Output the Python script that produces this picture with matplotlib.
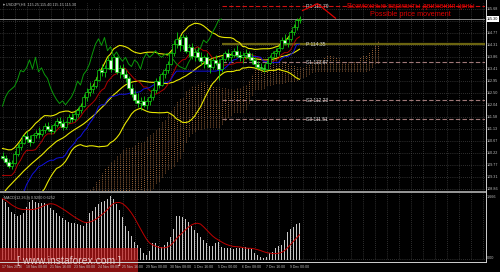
import matplotlib
matplotlib.use('Agg')
import matplotlib.pyplot as plt
import numpy as np
import pandas as pd
from matplotlib.patches import Rectangle

plt.rcParams['font.family'] = ['Liberation Sans', 'DejaVu Sans']

# ---------------- data ----------------
# warm-up history (not drawn, used only by the indicators)
pre_high = [103.6, 103.4, 103.3, 103.3,
            104.1, 104.5, 104.7, 104.6, 104.8, 104.7,
            104.9, 105.1, 105.3, 105.2, 105.5, 105.5,
            105.4, 103.9, 104.4, 105.2, 105.8, 105.9,
            106.2, 106.6, 106.5, 106.9, 106.9, 106.9,
            106.8, 106.7, 106.9, 107.0, 106.9, 106.8,
            107.3, 107.7, 108.0, 108.3, 108.5, 108.6,
            108.8, 108.8, 109.0, 109.3, 109.3, 109.4,
            109.3, 109.1, 109.3, 109.5, 109.8, 110.2]
pre_low = [103.0, 102.9, 102.8, 102.9,
           103.2, 103.9, 104.1, 104.1, 104.2, 104.2,
           104.3, 104.5, 104.7, 104.6, 104.8, 105.0,
           103.3, 101.2, 102.0, 103.9, 104.8, 105.3,
           105.5, 105.8, 105.9, 106.0, 106.5, 106.5,
           106.3, 106.2, 106.3, 106.5, 106.5, 106.4,
           106.5, 107.0, 107.4, 107.8, 108.0, 108.2,
           108.3, 108.3, 108.4, 108.7, 108.8, 108.9,
           108.7, 108.5, 108.7, 109.0, 109.2, 109.4]
pre_close = [103.3, 103.1, 103.0, 103.1,
             103.9, 104.2, 104.4, 104.3, 104.5, 104.4,
             104.6, 104.8, 105.0, 104.9, 105.2, 105.3,
             103.5, 102.2, 104.1, 104.9, 105.5, 105.6,
             105.9, 106.3, 106.1, 106.6, 106.8, 106.7,
             106.5, 106.4, 106.7, 106.8, 106.7, 106.6,
             107.1, 107.5, 107.8, 108.1, 108.3, 108.4,
             108.6, 108.5, 108.8, 109.1, 109.0, 109.2,
             109.0, 108.8, 109.1, 109.3, 109.5, 110.1]

opens = [110.10, 110.05, 109.90, 109.75, 109.85, 110.20,
         110.45, 110.60, 110.85, 110.75, 110.65, 110.90,
         111.00, 110.95, 111.10, 111.25, 111.15, 111.05,
         111.30, 111.45, 111.35, 111.20, 111.40, 111.60,
         111.50, 111.70, 111.85, 112.00, 112.35, 112.55,
         112.65, 112.75, 113.00, 113.35, 113.30, 113.45,
         113.75, 113.40, 113.85, 113.30, 113.45, 113.20,
         113.05, 112.70, 112.45, 112.25, 112.10, 112.20,
         112.05, 112.20, 112.35, 112.60, 112.95, 112.80,
         113.20, 113.35, 113.60, 114.00, 114.35, 114.55,
         114.30, 114.60, 114.10, 114.25, 113.90, 114.05,
         113.85, 113.70, 113.85, 113.60, 113.50, 113.75,
         113.65, 113.40, 113.80, 114.00, 113.85, 113.95,
         114.10, 113.95, 113.85, 113.95, 114.00, 113.85,
         113.75, 113.60, 113.50, 113.45, 113.40, 113.65,
         113.85, 114.00, 114.10, 114.20, 114.50, 114.40,
         114.55, 114.80, 115.00, 115.25]
highs = [110.25, 110.15, 110.00, 109.95, 110.30, 110.55,
         110.70, 110.95, 111.05, 110.90, 110.95, 111.10,
         111.20, 111.15, 111.35, 111.40, 111.30, 111.35,
         111.55, 111.60, 111.50, 111.45, 111.70, 111.75,
         111.80, 111.95, 112.10, 112.45, 112.70, 112.90,
         112.85, 113.10, 113.45, 113.60, 113.55, 113.90,
         113.90, 113.95, 113.90, 113.55, 113.60, 113.35,
         113.15, 112.85, 112.60, 112.50, 112.35, 112.40,
         112.30, 112.45, 112.70, 113.05, 113.15, 113.30,
         113.45, 113.70, 114.10, 114.50, 114.80, 114.70,
         114.75, 114.70, 114.35, 114.40, 114.20, 114.25,
         114.05, 113.95, 114.00, 113.80, 113.85, 113.95,
         113.80, 113.90, 114.10, 114.15, 114.05, 114.20,
         114.30, 114.10, 114.05, 114.15, 114.10, 114.00,
         113.85, 113.70, 113.65, 113.60, 113.75, 113.95,
         114.10, 114.20, 114.30, 114.60, 114.75, 114.65,
         114.90, 115.10, 115.35, 115.40]
lows = [109.95, 109.80, 109.65, 109.60, 109.80, 110.10,
        110.35, 110.55, 110.65, 110.50, 110.60, 110.80,
        110.80, 110.85, 111.00, 111.05, 110.95, 111.00,
        111.20, 111.25, 111.10, 111.15, 111.35, 111.40,
        111.45, 111.60, 111.75, 111.95, 112.20, 112.40,
        112.50, 112.70, 112.95, 113.15, 113.10, 113.40,
        113.30, 113.35, 113.20, 113.05, 113.10, 112.90,
        112.60, 112.35, 112.10, 111.95, 111.85, 111.95,
        111.90, 112.05, 112.25, 112.50, 112.70, 112.75,
        113.05, 113.25, 113.55, 113.90, 114.20, 114.10,
        114.15, 114.00, 113.85, 113.80, 113.70, 113.75,
        113.55, 113.45, 113.50, 113.25, 113.40, 113.55,
        113.00, 113.30, 113.70, 113.75, 113.70, 113.85,
        113.85, 113.70, 113.65, 113.80, 113.75, 113.60,
        113.50, 113.40, 113.35, 113.30, 113.35, 113.60,
        113.75, 113.85, 113.95, 114.15, 114.30, 114.25,
        114.45, 114.70, 114.90, 115.15]
closes = [110.05, 109.90, 109.75, 109.85, 110.20, 110.45,
          110.60, 110.85, 110.75, 110.65, 110.90, 111.00,
          110.95, 111.10, 111.25, 111.15, 111.05, 111.30,
          111.45, 111.35, 111.20, 111.40, 111.60, 111.50,
          111.70, 111.85, 112.00, 112.35, 112.55, 112.65,
          112.75, 113.00, 113.35, 113.30, 113.45, 113.75,
          113.40, 113.85, 113.30, 113.45, 113.20, 113.05,
          112.70, 112.45, 112.25, 112.10, 112.20, 112.05,
          112.20, 112.35, 112.60, 112.95, 112.80, 113.20,
          113.35, 113.60, 114.00, 114.35, 114.55, 114.30,
          114.60, 114.10, 114.25, 113.90, 114.05, 113.85,
          113.70, 113.85, 113.60, 113.50, 113.75, 113.65,
          113.40, 113.80, 114.00, 113.85, 113.95, 114.10,
          113.95, 113.85, 113.95, 114.00, 113.85, 113.75,
          113.60, 113.50, 113.45, 113.40, 113.65, 113.85,
          114.00, 114.10, 114.20, 114.50, 114.40, 114.55,
          114.80, 115.00, 115.25, 115.30]

macd_hist = [1.525, 1.450, 1.326, 1.194, 1.152, 1.094, 1.119, 1.161, 1.326, 1.435,
             1.485, 1.442, 1.418, 1.418, 1.410, 1.368, 1.293, 1.251, 1.176, 1.094,
             1.037, 0.995, 0.945, 0.920, 0.913, 0.888, 0.870, 0.838, 0.938, 1.176,
             1.226, 1.311, 1.385, 1.442, 1.475, 1.510, 1.592, 1.525, 1.393, 1.244,
             1.062, 0.846, 0.729, 0.597, 0.448, 0.373, 0.298, 0.182, 0.117, 0.231,
             0.415, 0.430, 0.356, 0.331, 0.373, 0.455, 0.579, 0.764, 1.094, 1.094,
             1.062, 1.012, 0.938, 0.853, 0.746, 0.664, 0.579, 0.497, 0.415, 0.348,
             0.348, 0.415, 0.455, 0.331, 0.291, 0.291, 0.291, 0.266, 0.291, 0.291,
             0.291, 0.316, 0.298, 0.266, 0.182, 0.117, 0.067, 0.042, 0.082, 0.182,
             0.199, 0.291, 0.348, 0.373, 0.497, 0.704, 0.778, 0.828, 0.888, 0.920]

pivot_names = ['R1', 'P', 'S1', 'S2', 'S3']
pivot_values = [115.79, 114.35, 113.67, 112.23, 111.51]
pivot_start_bar = 73

price_ticks = [115.68, 114.77, 114.315, 113.86, 113.405, 112.95, 112.495,
               112.04, 111.585, 111.13, 110.675, 110.22, 109.765, 109.31, 108.855]
grid_prices = [115.68, 115.225, 114.77, 114.315, 113.86, 113.405, 112.95, 112.495,
               112.04, 111.585, 111.13, 110.675, 110.22, 109.765, 109.31, 108.855]
macd_ticks = [1.666, 0.0]

scenario_bars = [100, 105, 111]
scenario_prices = [115.62, 115.88, 115.33]

title_ru = 'Возможные варианты движения цены'
title_en = 'Possible price movement'
symbol = 'USDJPY,H4'
start_time = '2016-11-17 00:00'

# ---------------- indicators ----------------
H = pd.Series(pre_high + highs)
L = pd.Series(pre_low + lows)
C = pd.Series(pre_close + closes)
npre = len(pre_close)
n = len(closes)
bb_mid = C.rolling(20).mean()
bb_sd = C.rolling(20).std(ddof=0)
bb_up = bb_mid + 2 * bb_sd
bb_lo = bb_mid - 2 * bb_sd
tenkan = (H.rolling(9).max() + L.rolling(9).min()) / 2
kijun = (H.rolling(26).max() + L.rolling(26).min()) / 2
spanA_src = (tenkan + kijun) / 2
spanB_src = (H.rolling(52).max() + L.rolling(52).min()) / 2

vis = slice(npre, npre + n)
x = np.arange(n)
cloud_x = np.arange(-26, n) + 26
cloud_a = spanA_src.values[npre - 26: npre + n]
cloud_b = spanB_src.values[npre - 26: npre + n]
chik_x = x[:n - 26]
chik_y = np.array(closes[26:])

sig = pd.Series(macd_hist).rolling(9, min_periods=1).mean()

times = pd.date_range(start_time, periods=400, freq='4h')
times = times[times.dayofweek < 5][:n]

# ---------------- figure ----------------
fig = plt.figure(figsize=(5.0, 2.72), dpi=100, facecolor='black')
W, Hh = 500.0, 272.0
bar_px = 3.0
x0_px = 2.5
xl = (0 - x0_px) / bar_px
xr = (485 - x0_px) / bar_px

ax = fig.add_axes([0, 1 - 191 / Hh, 485 / W, 188 / Hh], facecolor='black')
ax2 = fig.add_axes([0, 1 - 260 / Hh, 485 / W, 67 / Hh], facecolor='black')

top_price = 115.906
bot_price = 108.785
ax.set_xlim(xl, xr)
ax.set_ylim(bot_price, top_price)
ax2.set_xlim(xl, xr)
ax2.set_ylim(0, 1.666)

grid_col = '#5a5a5a'
for a in (ax, ax2):
    for s in a.spines.values():
        s.set_visible(False)
    a.tick_params(left=False, bottom=False, labelleft=False, labelbottom=False,
                  right=False, labelright=False)
    for g in range(0, 161, 4):
        a.axvline(g, color=grid_col, lw=0.5, ls=(0, (1, 2)), zorder=0)
for gp in grid_prices:
    ax.axhline(gp, color=grid_col, lw=0.5, ls=(0, (1, 2)), zorder=0)
ax2.axhline(0.02, color=grid_col, lw=0.5, ls=(0, (1, 2)), zorder=0)

# cloud
for cx, a_, b_ in zip(cloud_x, cloud_a, cloud_b):
    if np.isnan(a_) or np.isnan(b_):
        continue
    col = '#c8824a' if a_ >= b_ else '#9a8a9a'
    ax.vlines(cx, min(a_, b_), max(a_, b_), color=col, lw=0.6,
              linestyles=(0, (1, 1.5)), zorder=1)

# pivots
piv_cols = ['#d01010', '#6b6410', '#a07878', '#a07878', '#a07878']
piv_ls = [(0, (4, 2)), '-', (0, (4, 2)), (0, (4, 2)), (0, (4, 2))]
piv_lw = [0.8, 1.6, 0.8, 0.8, 0.8]
for nm, v, c, ls, lw in zip(pivot_names, pivot_values, piv_cols, piv_ls, piv_lw):
    ax.hlines(v, pivot_start_bar, xr, colors=c, linestyles=ls, lw=lw, zorder=2)
    ax.text(101, v, f'{nm} {v:.2f}', color='#d0d0d0', fontsize=3.6,
            va='center', ha='left', zorder=6)

# bid line
ax.axhline(closes[-1], color='#8a8a8a', lw=0.7, zorder=2)

# bollinger
for s_ in (bb_up, bb_mid, bb_lo):
    ax.plot(x, s_.values[vis], color='#e8e800', lw=0.8, zorder=3)
ax.plot(x, tenkan.values[vis], color='#b00000', lw=0.7, zorder=3)
ax.plot(x, kijun.values[vis], color='#1010e0', lw=0.7, zorder=3)
ax.plot(chik_x, chik_y, color='#0a9a0a', lw=0.7, zorder=3)

# candles
o = np.array(opens); c = np.array(closes)
ax.vlines(x, lows, highs, color='#10d010', lw=0.6, zorder=4)
up = c >= o
ax.bar(x[up], (c - o)[up], bottom=o[up], width=0.7, color='black',
       edgecolor='#10d010', lw=0.5, zorder=5)
ax.bar(x[~up], (o - c)[~up], bottom=c[~up], width=0.7, color='#f0fff0',
       edgecolor='#10d010', lw=0.5, zorder=5)

# scenario path and captions
ax.plot(scenario_bars, scenario_prices, color='#e00000', lw=0.9, zorder=6)
ax.text(136, 115.77, title_ru, color='#e00000', fontsize=5.2, ha='center',
        va='center', zorder=7)
ax.text(136, 115.47, title_en, color='#e00000', fontsize=5.2, ha='center',
        va='center', zorder=7)

# header
ax.text(0.3, 115.85, '▾ ' + symbol + '  ' + f'{opens[-1]:.2f} {highs[-1]:.2f} {lows[-1]:.2f} {closes[-1]:.2f}',
        color='#c0c0c0', fontsize=2.7, ha='left', va='center', zorder=7)

# right price axis
tr = ax.get_yaxis_transform()
for p in price_ticks:
    ax.text(1.004, p, f'{p:.2f}', transform=tr, color='#c0c0c0', fontsize=2.7,
            ha='left', va='center', clip_on=False)
ax.text(1.004, closes[-1], f'{closes[-1]:.2f}', transform=tr, color='black',
        fontsize=2.7, ha='left', va='center', clip_on=False,
        bbox=dict(boxstyle='square,pad=0.15', fc='white', ec='none'))

# MACD panel
ax2.bar(x, macd_hist, width=0.45, color='#c8c8c8', zorder=3)
ax2.plot(x, sig.values, color='#c00000', lw=0.7, zorder=4)
ax2.text(0.5, 1.55, f'MACD(12,26,9) {macd_hist[-1]:.4f} {sig.values[-1]:.4f}',
         color='#c0c0c0', fontsize=2.7, ha='left', va='center')
tr2 = ax2.get_yaxis_transform()
ax2.text(1.004, macd_ticks[0] - 0.1, f'{macd_ticks[0]:.3f}', transform=tr2,
         color='#c0c0c0', fontsize=2.7, ha='left', va='center', clip_on=False)
ax2.text(1.004, macd_ticks[1] + 0.05, f'{macd_ticks[1]:.2f}', transform=tr2,
         color='#c0c0c0', fontsize=2.7, ha='left', va='center', clip_on=False)

# borders / separators
fig.add_artist(plt.Line2D([0, 485 / W], [1 - 192 / Hh] * 2, color='#9a9a9a', lw=1.4))
fig.add_artist(plt.Line2D([485.5 / W] * 2, [1 - 262 / Hh, 1], color='#d0d0d0', lw=0.7))
fig.add_artist(plt.Line2D([0, 485.5 / W], [1 - 261.5 / Hh] * 2, color='#d0d0d0', lw=0.7))

# date labels
for i in range(0, n, 8):
    t = times[i]
    lab = f'{t.day} {t.strftime("%b %Y")}' if i == 0 else f'{t.day} {t.strftime("%b %H:%M")}'
    px = (x0_px + bar_px * i) / W
    fig.text(px, 1 - 266.5 / Hh, lab, color='#c0c0c0', fontsize=2.5, ha='left', va='center')

# watermark
fig.add_artist(Rectangle((0, 0), 138 / W, 24 / Hh, transform=fig.transFigure,
                         facecolor='#c01818', alpha=0.7, edgecolor='none'))
fig.text(69 / W, 1 - 261 / Hh, '[ www.instaforex.com ]', color='#f4dede', alpha=0.85,
         fontsize=7.5, ha='center', va='center')

fig.savefig('out.png', dpi=100, facecolor='black')
